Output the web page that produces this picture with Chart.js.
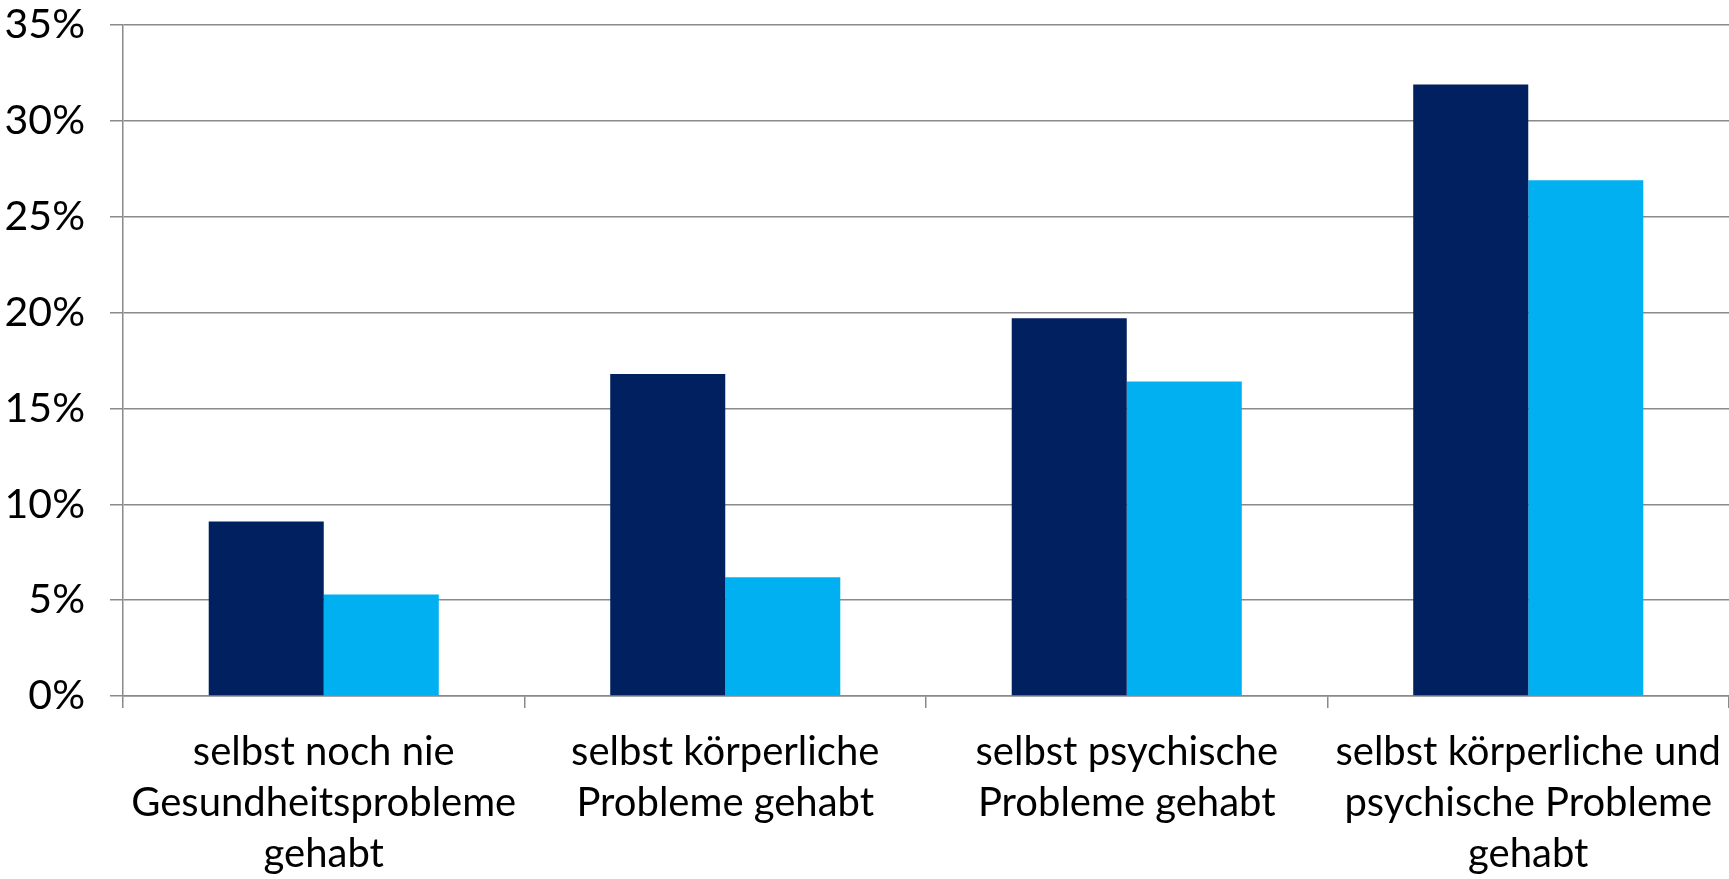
<!DOCTYPE html>
<html>
<head>
<meta charset="utf-8">
<script src="https://cdn.jsdelivr.net/npm/chart.js@4.4.1/dist/chart.umd.min.js"></script>
<style>
  html, body { margin: 0; padding: 0; background: #ffffff; }
  #wrap { position: relative; width: 1729px; height: 879px; }
</style>
</head>
<body>
<div id="wrap"><canvas id="c" width="1729" height="879"></canvas></div>
<script>
const categories = [
  ["selbst noch nie", "Gesundheitsprobleme", "gehabt"],
  ["selbst körperliche", "Probleme gehabt"],
  ["selbst psychische", "Probleme gehabt"],
  ["selbst körperliche und", "psychische Probleme", "gehabt"]
];
const seriesDark = [9.1, 16.8, 19.7, 31.9];
const seriesLight = [5.3, 6.2, 16.4, 26.9];
const yTicks = [0, 5, 10, 15, 20, 25, 30, 35];

const FONT = "Lato";
const gridColor = "#8a8a8a";

new Chart(document.getElementById("c"), {
  type: "bar",
  data: {
    labels: categories,
    datasets: [
      { label: "A", data: seriesDark, backgroundColor: "#002060", categoryPercentage: 0.573, barPercentage: 1.0 },
      { label: "B", data: seriesLight, backgroundColor: "#00B0F0", categoryPercentage: 0.573, barPercentage: 1.0 }
    ]
  },
  options: {
    responsive: false,
    animation: false,
    devicePixelRatio: 1,
    layout: { padding: { top: 0, right: 0, left: 0, bottom: 0 } },
    plugins: { legend: { display: false }, tooltip: { enabled: false } },
    scales: {
      x: {
        grid: { display: true, offset: true, drawOnChartArea: false, drawTicks: true, tickLength: 12, color: gridColor, lineWidth: 1.5 },
        border: { display: true, color: gridColor, width: 1.5 },
        ticks: {
          color: "#000000",
          font: { family: FONT, size: 40, lineHeight: 1.28 },
          padding: 18,
          maxRotation: 0,
          autoSkip: false
        },
        afterFit: (s) => { s.height = 183; s.paddingLeft = 0; s.paddingRight = 0; }
      },
      y: {
        min: 0,
        max: 35,
        afterBuildTicks: (s) => { s.ticks = yTicks.map(v => ({ value: v })); },
        grid: { display: true, drawTicks: true, tickLength: 13, color: gridColor, lineWidth: 1.5 },
        border: { display: true, color: gridColor, width: 1.5 },
        ticks: {
          color: "#000000",
          font: { family: FONT, size: 41 },
          padding: 25,
          callback: (v) => v + "%"
        },
        afterFit: (s) => { s.width = 123; s.paddingTop = 25; s.paddingBottom = 0; }
      }
    }
  }
});
</script>
</body>
</html>
